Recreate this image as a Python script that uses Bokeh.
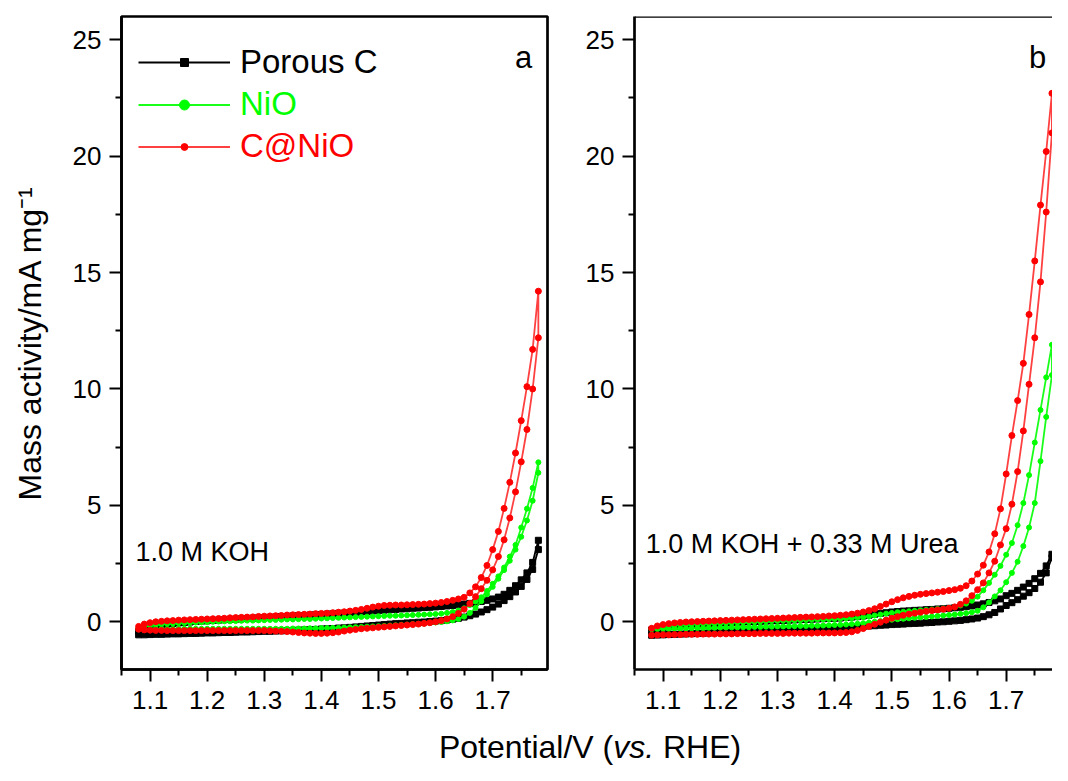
from bokeh.plotting import figure
from bokeh.models import Range1d, FixedTicker, Label, Legend, LegendItem, Span
from bokeh.layouts import row, column
from bokeh.embed import file_html
from bokeh.resources import INLINE

FONT = "Liberation Sans"

# ---------------- data ----------------
E = [1.08, 1.09,
     1.10, 1.11, 1.12, 1.13, 1.14, 1.15, 1.16, 1.17, 1.18, 1.19,
     1.20, 1.21, 1.22, 1.23, 1.24, 1.25, 1.26, 1.27, 1.28, 1.29,
     1.30, 1.31, 1.32, 1.33, 1.34, 1.35, 1.36, 1.37, 1.38, 1.39,
     1.40, 1.41, 1.42, 1.43, 1.44, 1.45, 1.46, 1.47, 1.48, 1.49,
     1.50, 1.51, 1.52, 1.53, 1.54, 1.55, 1.56, 1.57, 1.58, 1.59,
     1.60, 1.61, 1.62, 1.63, 1.64, 1.65, 1.66, 1.67, 1.68, 1.69,
     1.70, 1.71, 1.72, 1.73, 1.74, 1.75, 1.76, 1.77, 1.78]

# panel a: 1.0 M KOH
a_black_up = [-0.42, -0.30,
              -0.22, -0.17, -0.13, -0.10, -0.07, -0.05, -0.03, -0.01, 0.01, 0.03,
              0.04, 0.06, 0.07, 0.09, 0.10, 0.11, 0.13, 0.14, 0.15, 0.17,
              0.18, 0.19, 0.21, 0.22, 0.23, 0.25, 0.26, 0.27, 0.29, 0.30,
              0.31, 0.33, 0.34, 0.36, 0.37, 0.39, 0.40, 0.42, 0.44, 0.46,
              0.48, 0.50, 0.52, 0.53, 0.55, 0.56, 0.58, 0.59, 0.61, 0.62,
              0.64, 0.66, 0.68, 0.70, 0.73, 0.76, 0.79, 0.83, 0.87, 0.92,
              0.98, 1.06, 1.18, 1.35, 1.55, 1.80, 2.10, 2.55, 3.50]
a_black_lo = [-0.56, -0.56,
              -0.55, -0.54, -0.54, -0.53, -0.52, -0.52, -0.51, -0.50, -0.50, -0.49,
              -0.48, -0.48, -0.47, -0.46, -0.46, -0.45, -0.44, -0.44, -0.43, -0.42,
              -0.41, -0.41, -0.40, -0.39, -0.38, -0.37, -0.36, -0.35, -0.34, -0.33,
              -0.31, -0.30, -0.29, -0.27, -0.26, -0.24, -0.22, -0.20, -0.18, -0.16,
              -0.14, -0.12, -0.10, -0.08, -0.07, -0.05, -0.04, -0.02, -0.01, 0.01,
              0.03, 0.05, 0.08, 0.11, 0.15, 0.20, 0.26, 0.33, 0.42, 0.52,
              0.63, 0.76, 0.91, 1.08, 1.28, 1.52, 1.82, 2.25, 3.10]
a_nio_up = [-0.26, -0.20,
            -0.16, -0.13, -0.11, -0.09, -0.07, -0.06, -0.05, -0.04, -0.03, -0.02,
            -0.01, 0.00, 0.01, 0.02, 0.02, 0.03, 0.04, 0.05, 0.05, 0.06,
            0.07, 0.08, 0.08, 0.09, 0.10, 0.10, 0.11, 0.12, 0.12, 0.13,
            0.14, 0.15, 0.16, 0.17, 0.18, 0.19, 0.20, 0.21, 0.22, 0.23,
            0.24, 0.25, 0.26, 0.26, 0.27, 0.28, 0.29, 0.30, 0.31, 0.32,
            0.33, 0.35, 0.38, 0.42, 0.48, 0.58, 0.72, 0.87, 1.05, 1.32,
            1.63, 1.95, 2.33, 2.80, 3.30, 4.05, 4.86, 5.75, 6.85]
a_nio_lo = [-0.32, -0.32,
            -0.32, -0.31, -0.31, -0.31, -0.31, -0.31, -0.30, -0.30, -0.30, -0.30,
            -0.30, -0.30, -0.30, -0.30, -0.30, -0.30, -0.30, -0.30, -0.30, -0.30,
            -0.30, -0.30, -0.30, -0.30, -0.30, -0.29, -0.29, -0.29, -0.28, -0.28,
            -0.27, -0.27, -0.26, -0.26, -0.25, -0.24, -0.23, -0.22, -0.21, -0.20,
            -0.19, -0.18, -0.16, -0.15, -0.13, -0.12, -0.10, -0.09, -0.07, -0.05,
            -0.03, -0.01, 0.02, 0.06, 0.12, 0.22, 0.38, 0.60, 0.88, 1.18,
            1.50, 1.85, 2.22, 2.62, 3.10, 3.65, 4.35, 5.20, 6.40]
a_cnio_up = [-0.20, -0.10,
             -0.04, 0.00, 0.02, 0.04, 0.05, 0.07, 0.08, 0.09, 0.10, 0.11,
             0.12, 0.13, 0.14, 0.15, 0.17, 0.18, 0.19, 0.20, 0.21, 0.23,
             0.24, 0.25, 0.26, 0.27, 0.29, 0.30, 0.31, 0.32, 0.33, 0.35,
             0.36, 0.37, 0.39, 0.41, 0.43, 0.46, 0.49, 0.53, 0.58, 0.63,
             0.67, 0.70, 0.71, 0.72, 0.72, 0.73, 0.74, 0.75, 0.76, 0.78,
             0.80, 0.83, 0.87, 0.92, 0.98, 1.05, 1.24, 1.50, 1.90, 2.42,
             3.10, 3.88, 4.87, 5.99, 7.25, 8.64, 10.10, 11.70, 14.20]
a_cnio_lo = [-0.32, -0.35,
             -0.36, -0.37, -0.37, -0.38, -0.38, -0.38, -0.38, -0.38, -0.38, -0.38,
             -0.38, -0.38, -0.38, -0.38, -0.38, -0.38, -0.38, -0.38, -0.38, -0.38,
             -0.38, -0.39, -0.40, -0.41, -0.42, -0.44, -0.46, -0.48, -0.49, -0.50,
             -0.50, -0.49, -0.47, -0.44, -0.40, -0.36, -0.33, -0.30, -0.28, -0.26,
             -0.24, -0.22, -0.20, -0.18, -0.16, -0.14, -0.12, -0.10, -0.07, -0.04,
             0.00, 0.05, 0.12, 0.22, 0.36, 0.54, 0.78, 1.08, 1.42, 1.78,
             2.23, 2.80, 3.52, 4.46, 5.58, 6.87, 8.26, 10.00, 12.20]

# panel b: 1.0 M KOH + 0.33 M Urea
b_black_up = [-0.35, -0.29,
              -0.25, -0.22, -0.19, -0.17, -0.15, -0.13, -0.11, -0.10, -0.08, -0.07,
              -0.05, -0.04, -0.03, -0.02, -0.01, 0.00, 0.01, 0.02, 0.03, 0.04,
              0.05, 0.06, 0.07, 0.08, 0.09, 0.10, 0.11, 0.12, 0.13, 0.14,
              0.15, 0.16, 0.18, 0.20, 0.22, 0.25, 0.28, 0.32, 0.36, 0.39,
              0.42, 0.44, 0.46, 0.47, 0.49, 0.50, 0.52, 0.53, 0.55, 0.56,
              0.58, 0.60, 0.62, 0.65, 0.68, 0.72, 0.77, 0.83, 0.90, 0.98,
              1.12, 1.22, 1.35, 1.49, 1.65, 1.85, 2.08, 2.40, 2.90]
b_black_lo = [-0.58, -0.57,
              -0.56, -0.55, -0.54, -0.53, -0.52, -0.51, -0.50, -0.49, -0.48, -0.47,
              -0.46, -0.45, -0.44, -0.43, -0.42, -0.41, -0.40, -0.39, -0.38, -0.37,
              -0.36, -0.35, -0.34, -0.33, -0.32, -0.31, -0.30, -0.29, -0.28, -0.27,
              -0.26, -0.25, -0.24, -0.23, -0.21, -0.20, -0.18, -0.17, -0.15, -0.14,
              -0.12, -0.11, -0.10, -0.08, -0.07, -0.06, -0.04, -0.03, -0.01, 0.00,
              0.02, 0.04, 0.06, 0.09, 0.12, 0.16, 0.22, 0.30, 0.40, 0.55,
              0.70, 0.82, 0.95, 1.10, 1.25, 1.43, 1.70, 2.10, 2.75]
b_nio_up = [-0.30, -0.24,
            -0.20, -0.17, -0.15, -0.13, -0.12, -0.11, -0.10, -0.09, -0.08, -0.07,
            -0.06, -0.05, -0.04, -0.03, -0.02, -0.01, 0.00, 0.01, 0.02, 0.03,
            0.04, 0.05, 0.05, 0.06, 0.07, 0.08, 0.09, 0.10, 0.10, 0.11,
            0.12, 0.13, 0.14, 0.16, 0.18, 0.20, 0.23, 0.27, 0.31, 0.35,
            0.38, 0.41, 0.43, 0.45, 0.47, 0.49, 0.51, 0.53, 0.55, 0.57,
            0.60, 0.64, 0.70, 0.78, 0.90, 1.08, 1.35, 1.67, 2.02, 2.40,
            2.88, 3.38, 4.15, 5.10, 6.30, 7.70, 9.10, 10.50, 11.90]
b_nio_lo = [-0.32, -0.31,
            -0.30, -0.30, -0.29, -0.29, -0.28, -0.28, -0.27, -0.27, -0.26, -0.26,
            -0.25, -0.25, -0.24, -0.24, -0.23, -0.23, -0.22, -0.22, -0.21, -0.21,
            -0.20, -0.20, -0.19, -0.19, -0.18, -0.18, -0.17, -0.17, -0.16, -0.15,
            -0.14, -0.13, -0.12, -0.10, -0.08, -0.06, -0.03, 0.00, 0.03, 0.06,
            0.09, 0.11, 0.13, 0.15, 0.17, 0.19, 0.21, 0.23, 0.25, 0.27,
            0.29, 0.31, 0.34, 0.37, 0.41, 0.47, 0.62, 0.83, 1.09, 1.35,
            1.70, 2.10, 2.58, 3.25, 4.05, 5.10, 6.90, 8.80, 10.60]
b_cnio_up = [-0.28, -0.18,
             -0.12, -0.08, -0.05, -0.03, -0.01, 0.00, 0.01, 0.02, 0.03, 0.04,
             0.05, 0.06, 0.07, 0.08, 0.09, 0.10, 0.11, 0.12, 0.13, 0.14,
             0.15, 0.16, 0.17, 0.18, 0.19, 0.20, 0.21, 0.22, 0.23, 0.25,
             0.26, 0.28, 0.30, 0.33, 0.37, 0.42, 0.48, 0.56, 0.66, 0.76,
             0.86, 0.95, 1.03, 1.09, 1.14, 1.18, 1.21, 1.24, 1.27, 1.30,
             1.34, 1.38, 1.44, 1.55, 1.75, 2.05, 2.43, 3.00, 3.78, 4.85,
             6.35, 8.00, 9.50, 11.10, 13.20, 15.50, 17.90, 20.20, 22.70]
b_cnio_lo = [-0.58, -0.57,
             -0.56, -0.56, -0.55, -0.55, -0.54, -0.54, -0.54, -0.53, -0.53, -0.53,
             -0.52, -0.52, -0.52, -0.51, -0.51, -0.51, -0.51, -0.50, -0.50, -0.50,
             -0.50, -0.50, -0.49, -0.49, -0.49, -0.49, -0.49, -0.48, -0.48, -0.48,
             -0.48, -0.47, -0.46, -0.43, -0.37, -0.29, -0.20, -0.11, -0.02, 0.07,
             0.15, 0.22, 0.28, 0.33, 0.37, 0.41, 0.45, 0.48, 0.51, 0.54,
             0.58, 0.64, 0.75, 0.90, 1.12, 1.38, 1.67, 2.10, 2.60, 3.30,
             4.00, 5.05, 6.45, 8.20, 10.20, 12.20, 14.60, 17.60, 21.00]

SERIES = ["Porous C", "NiO", "C@NiO"]
COLORS = ["#000000", "#00ff00", "#ff0000"]
MARKERS = ["square", "circle", "circle"]

X_TICKS = [1.1, 1.2, 1.3, 1.4, 1.5, 1.6, 1.7]
X_MINOR = [1.05, 1.15, 1.25, 1.35, 1.45, 1.55, 1.65, 1.75]
Y_TICKS = [0, 5, 10, 15, 20, 25]
Y_MINOR = [2.5, 7.5, 12.5, 17.5, 22.5]

PANEL_H = 721


def make_panel(width, bl, br, x_end):
    p = figure(width=width, height=PANEL_H, x_range=Range1d(1.05, x_end),
               y_range=Range1d(-2.05, 26.0), output_backend="svg",
               toolbar_location=None, title=None,
               min_border_left=bl, min_border_right=br,
               min_border_top=16, min_border_bottom=52)
    p.xgrid.visible = False
    p.ygrid.visible = False
    p.background_fill_color = "white"
    p.border_fill_color = "white"
    for ax in (p.xaxis[0], p.yaxis[0]):
        ax.axis_line_width = 2.7
        ax.axis_line_color = "black"
        ax.major_tick_line_width = 2
        ax.minor_tick_line_width = 2
        ax.major_tick_line_color = "black"
        ax.minor_tick_line_color = "black"
        ax.major_tick_in = 0
        ax.major_tick_out = 12
        ax.minor_tick_in = 0
        ax.minor_tick_out = 6
        ax.major_label_text_font = FONT
        ax.major_label_text_font_size = "26px"
        ax.major_label_text_color = "black"
    p.xaxis[0].major_label_standoff = 9
    p.yaxis[0].major_label_standoff = 8
    p.xaxis[0].ticker = FixedTicker(ticks=X_TICKS, minor_ticks=X_MINOR)
    p.yaxis[0].ticker = FixedTicker(ticks=Y_TICKS, minor_ticks=Y_MINOR)
    return p


def draw(p, up, lo, color, marker, msize, lalpha):
    xs = E + E[::-1]
    ys = up + lo[::-1]
    rl = p.line(xs, ys, line_color=color, line_width=1.8, line_alpha=lalpha)
    rs = p.scatter(xs, ys, marker=marker, size=msize, fill_color=color, line_color=color)
    return rl, rs


# ---------------- panel a ----------------
pa = make_panel(557, 121, 10, 1.796)
pa.outline_line_color = "black"
pa.outline_line_width = 2.7
pa.outline_line_alpha = 1.0
pa.yaxis[0].axis_label = "Mass activity/mA mg\u207b\u00b9"
pa.yaxis[0].axis_label_text_font = FONT
pa.yaxis[0].axis_label_text_font_size = "32px"
pa.yaxis[0].axis_label_text_font_style = "normal"
pa.yaxis[0].axis_label_text_color = "black"
pa.yaxis[0].axis_label_standoff = 22

rends_a = [
    draw(pa, a_black_up, a_black_lo, COLORS[0], MARKERS[0], 6, 1.0),
    draw(pa, a_nio_up, a_nio_lo, COLORS[1], MARKERS[1], 5, 0.9),
    draw(pa, a_cnio_up, a_cnio_lo, COLORS[2], MARKERS[2], 6, 0.75),
]

# legend: one Legend per entry so each label keeps its own colour
leg_glyph_h = [20, 25, 17]
leg_y = [588, 546, 504]
for name, col, rr, gh, ly in zip(SERIES, COLORS, rends_a, leg_glyph_h, leg_y):
    leg = Legend(items=[LegendItem(label=name, renderers=list(rr))],
                 location=(17, ly), glyph_width=92, glyph_height=gh,
                 label_standoff=10, label_text_font=FONT,
                 label_text_font_size="33px", label_text_color=col,
                 border_line_color=None, background_fill_alpha=0,
                 padding=0, margin=0, spacing=0)
    pa.add_layout(leg)

pa.add_layout(Label(x=1.754, y=24.25, text="a", text_align="center",
                    text_baseline="alphabetic", text_font=FONT,
                    text_font_size="31px", text_color="black"))
pa.add_layout(Label(x=1.0745, y=2.98, text="1.0 M KOH", text_align="left",
                    text_baseline="middle", text_font=FONT,
                    text_font_size="27px", text_color="black"))

# ---------------- panel b ----------------
pb = make_panel(495, 77, 0, 1.781)
pb.outline_line_color = None
pb.add_layout(Span(location=26.0, dimension="width", line_color="black",
                   line_width=2.7))

draw(pb, b_black_up, b_black_lo, COLORS[0], MARKERS[0], 6, 1.0)
draw(pb, b_nio_up, b_nio_lo, COLORS[1], MARKERS[1], 5, 0.9)
draw(pb, b_cnio_up, b_cnio_lo, COLORS[2], MARKERS[2], 6, 0.75)

pb.add_layout(Label(x=1.755, y=24.25, text="b", text_align="center",
                    text_baseline="alphabetic", text_font=FONT,
                    text_font_size="31px", text_color="black"))
pb.add_layout(Label(x=1.0696, y=3.34, text="1.0 M KOH + 0.33 M Urea",
                    text_align="left", text_baseline="middle", text_font=FONT,
                    text_font_size="27px", text_color="black"))

# ---------------- shared x label ----------------
LBL_H = 44
pl = figure(width=1052, height=LBL_H, x_range=Range1d(0, 1052), y_range=Range1d(0, LBL_H),
            output_backend="svg", toolbar_location=None, title=None,
            x_axis_location=None, y_axis_location=None, min_border=0)
pl.grid.visible = False
pl.outline_line_color = None
pl.border_fill_color = "white"
base_y = 19
for txt, xx, style in [("Potential/V (", 438.4, "normal"),
                       ("vs.", 612.7, "italic"),
                       ("RHE)", 662.5, "normal")]:
    pl.add_layout(Label(x=xx, y=base_y, text=txt, text_align="left",
                        text_baseline="middle", text_font=FONT,
                        text_font_style=style,
                        text_font_size="32px", text_color="black"))

layout = column(row(pa, pb), pl)
open("out.html", "w").write(file_html(layout, INLINE))
